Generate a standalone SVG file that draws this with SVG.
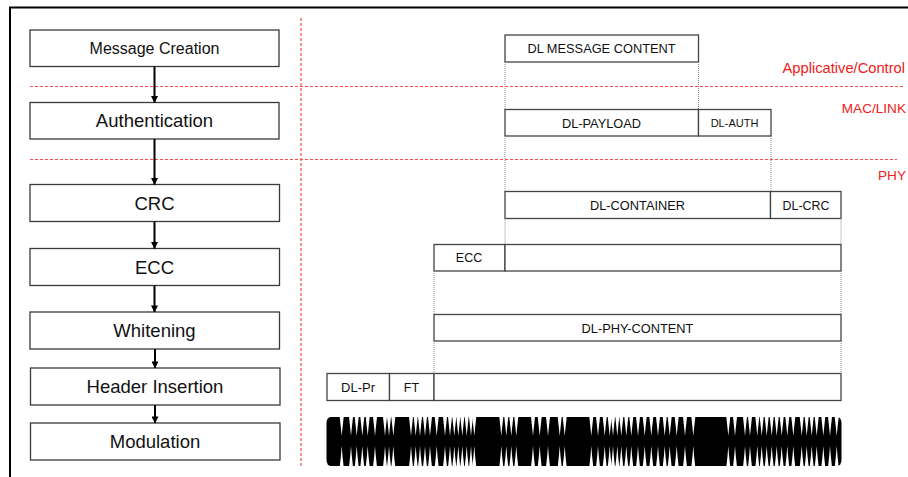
<svg xmlns="http://www.w3.org/2000/svg" xmlns:xlink="http://www.w3.org/1999/xlink" width="908" height="477" viewBox="0 0 908 477">
<style>
.box{fill:#fff;stroke:#3a3a3a;stroke-width:1.3}
.fbox{fill:#fff;stroke:#444;stroke-width:1.3}
.t{font-family:"Liberation Sans",Arial,sans-serif;fill:#111;text-anchor:middle}
.big{font-size:18.5px}
.sm{font-size:12.8px}
.red{font-family:"Liberation Sans",Arial,sans-serif;fill:#f02020;text-anchor:end}
.rd{stroke:#ff4a4a;stroke-width:1.2;stroke-dasharray:3 2;fill:none}
.dot{stroke:#8a8a8a;stroke-width:1;stroke-dasharray:1 1;fill:none}
.arr{stroke:#000;stroke-width:2;fill:none;marker-end:url(#ah)}
</style>
<defs>
<marker id="ah" viewBox="0 0 8 8" refX="7.5" refY="4" markerWidth="7" markerHeight="7" markerUnits="userSpaceOnUse" orient="auto">
<path d="M0,0 L8,4 L0,8 Z" fill="#000"/>
</marker>
<path id="g" d="M-2.1,416 L2.1,416 L0.8,428 L0,436 L-0.8,428 Z M-2.1,468 L2.1,468 L0.8,456 L0,446 L-0.8,456 Z" fill="#fff"/>
</defs>
<rect width="908" height="477" fill="#fff"/>
<!-- frame -->
<path d="M10,477 L10,7.5 L908,7.5" stroke="#000" stroke-width="2" fill="none"/>
<!-- layer separators -->
<g id="separators">
<line class="rd" x1="301" y1="18" x2="301" y2="468"/>
<line class="rd" x1="30" y1="86.5" x2="903" y2="86.5"/>
<line class="rd" x1="30" y1="159.5" x2="897" y2="159.5"/>
<text class="red" x="905" y="73" style="font-size:14.7px">Applicative/Control</text>
<text class="red" x="906" y="113" style="font-size:13.6px">MAC/LINK</text>
<text class="red" x="906" y="180" style="font-size:13.6px">PHY</text>
</g>
<!-- left process nodes -->
<g id="n-message-creation"><rect class="box" x="30" y="30" width="249" height="36.5"/><text class="t" x="154.5" y="54" font-size="16">Message Creation</text></g>
<g id="n-authentication"><rect class="box" x="30" y="102.5" width="249" height="36.5"/><text class="t big" x="154.5" y="127.3">Authentication</text></g>
<g id="n-crc"><rect class="box" x="30" y="184.5" width="249.5" height="37"/><text class="t big" x="154.5" y="209.5">CRC</text></g>
<g id="n-ecc"><rect class="box" x="30" y="248.5" width="249.5" height="37"/><text class="t big" x="154.5" y="273.5">ECC</text></g>
<g id="n-whitening"><rect class="box" x="30" y="312" width="249.5" height="37"/><text class="t big" x="154.5" y="337">Whitening</text></g>
<g id="n-header-insertion"><rect class="box" x="30.5" y="368" width="249.5" height="37"/><text class="t big" x="155" y="393">Header Insertion</text></g>
<g id="n-modulation"><rect class="box" x="30.5" y="423" width="249.5" height="37"/><text class="t big" x="155" y="448">Modulation</text></g>
<!-- right frame structure nodes -->
<g id="n-dl-message-content"><rect class="fbox" x="505" y="35" width="193.5" height="27"/><text class="t sm" x="601.5" y="53.3">DL MESSAGE CONTENT</text></g>
<g id="n-dl-payload"><rect class="fbox" x="505" y="109.5" width="193.5" height="26.5"/><text class="t sm" x="601.5" y="127.5">DL-PAYLOAD</text></g>
<g id="n-dl-auth"><rect class="fbox" x="698.5" y="109.5" width="72.5" height="26.5"/><text class="t" x="734.5" y="127.3" font-size="11">DL-AUTH</text></g>
<g id="n-dl-container"><rect class="fbox" x="505" y="191.5" width="265.5" height="27"/><text class="t sm" x="637.5" y="209.8">DL-CONTAINER</text></g>
<g id="n-dl-crc"><rect class="fbox" x="770.5" y="191.5" width="70.5" height="27"/><text class="t" x="806" y="209.8" font-size="12.4">DL-CRC</text></g>
<g id="n-ecc-field"><rect class="fbox" x="434" y="244.5" width="71" height="26.5"/><text class="t" x="469" y="262.2" font-size="12.5">ECC</text></g>
<g id="n-ecc-data"><rect class="fbox" x="505" y="244.5" width="336" height="26.5"/></g>
<g id="n-dl-phy-content"><rect class="fbox" x="434" y="314.5" width="407" height="26.5"/><text class="t sm" x="637.5" y="332.5">DL-PHY-CONTENT</text></g>
<g id="n-dl-pr"><rect class="fbox" x="327" y="373.5" width="62.5" height="27"/><text class="t" x="358" y="391.5" font-size="13">DL-Pr</text></g>
<g id="n-ft"><rect class="fbox" x="389.5" y="373.5" width="44.5" height="27"/><text class="t" x="411.5" y="391.5" font-size="12.5">FT</text></g>
<g id="n-phy-body"><rect class="fbox" x="434" y="373.5" width="407" height="27"/></g>
<!-- modulated waveform -->
<g id="n-waveform">
<rect x="326.5" y="417" width="515" height="49" rx="4" ry="6" fill="#000"/>
<use xlink:href="#g" x="341.7"/><use xlink:href="#g" x="351"/><use xlink:href="#g" x="356.7"/><use xlink:href="#g" x="362.3"/><use xlink:href="#g" x="367.7"/><use xlink:href="#g" x="375"/><use xlink:href="#g" x="385"/><use xlink:href="#g" x="389"/><use xlink:href="#g" x="393.3"/>
<use xlink:href="#g" x="411"/><use xlink:href="#g" x="415.7"/><use xlink:href="#g" x="420"/><use xlink:href="#g" x="425"/><use xlink:href="#g" x="430"/><use xlink:href="#g" x="436.7"/><use xlink:href="#g" x="445"/><use xlink:href="#g" x="450"/><use xlink:href="#g" x="454.3"/><use xlink:href="#g" x="458.3"/><use xlink:href="#g" x="462.3"/><use xlink:href="#g" x="466.7"/><use xlink:href="#g" x="471"/><use xlink:href="#g" x="474.3"/>
<use xlink:href="#g" x="501.3"/><use xlink:href="#g" x="506.3"/><use xlink:href="#g" x="511.3"/><use xlink:href="#g" x="516.3"/>
<use xlink:href="#g" x="533"/><use xlink:href="#g" x="539.7"/><use xlink:href="#g" x="548"/><use xlink:href="#g" x="559.7"/><use xlink:href="#g" x="564.7"/>
<use xlink:href="#g" x="591.3"/><use xlink:href="#g" x="598"/><use xlink:href="#g" x="604.7"/><use xlink:href="#g" x="609.7"/><use xlink:href="#g" x="613"/><use xlink:href="#g" x="617.3"/><use xlink:href="#g" x="621.3"/><use xlink:href="#g" x="626.3"/><use xlink:href="#g" x="631.3"/><use xlink:href="#g" x="638"/><use xlink:href="#g" x="644.7"/><use xlink:href="#g" x="651.3"/><use xlink:href="#g" x="658"/><use xlink:href="#g" x="664.7"/><use xlink:href="#g" x="669.7"/>
<use xlink:href="#g" x="676.7"/><use xlink:href="#g" x="685"/><use xlink:href="#g" x="693.3"/>
<use xlink:href="#g" x="728.3"/><use xlink:href="#g" x="735"/><use xlink:href="#g" x="745"/><use xlink:href="#g" x="750"/><use xlink:href="#g" x="757.3"/><use xlink:href="#g" x="761.7"/><use xlink:href="#g" x="766.7"/><use xlink:href="#g" x="771.7"/><use xlink:href="#g" x="776.7"/><use xlink:href="#g" x="781.7"/><use xlink:href="#g" x="787.3"/><use xlink:href="#g" x="793.3"/><use xlink:href="#g" x="801.7"/><use xlink:href="#g" x="806.7"/><use xlink:href="#g" x="811.7"/><use xlink:href="#g" x="816.7"/><use xlink:href="#g" x="823.3"/><use xlink:href="#g" x="830"/><use xlink:href="#g" x="836.7"/>
</g>
<!-- connectors -->
<g id="connectors">
<line class="arr" x1="154.5" y1="66.5" x2="154.5" y2="102.5"/>
<line class="arr" x1="154.5" y1="139" x2="154.5" y2="184.5"/>
<line class="arr" x1="154.5" y1="221.5" x2="154.5" y2="248.5"/>
<line class="arr" x1="154.5" y1="285.5" x2="154.5" y2="312"/>
<line class="arr" x1="155" y1="349" x2="155" y2="368"/>
<line class="arr" x1="155" y1="405" x2="155" y2="423"/>
<line class="dot" x1="505" y1="62" x2="505" y2="109.5"/>
<line class="dot" x1="698.5" y1="62" x2="698.5" y2="109.5"/>
<line class="dot" x1="505" y1="136" x2="505" y2="191.5"/>
<line class="dot" x1="771" y1="136" x2="771" y2="191.5"/>
<line class="dot" x1="505" y1="218.5" x2="505" y2="244.5"/>
<line class="dot" x1="841" y1="218.5" x2="841" y2="244.5"/>
<line class="dot" x1="434" y1="271" x2="434" y2="314.5"/>
<line class="dot" x1="841" y1="271" x2="841" y2="314.5"/>
<line class="dot" x1="434" y1="341" x2="434" y2="373.5"/>
<line class="dot" x1="841" y1="341" x2="841" y2="373.5"/>
</g>
</svg>
